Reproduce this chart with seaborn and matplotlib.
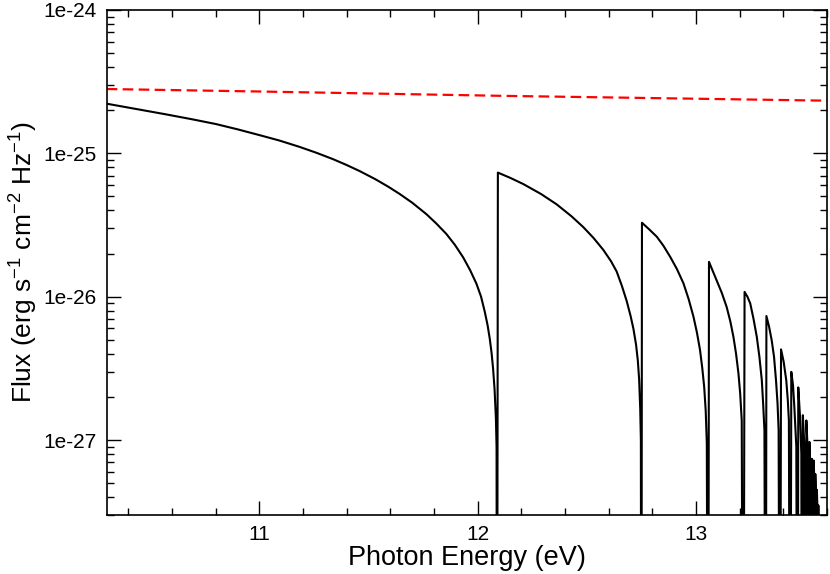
import matplotlib
matplotlib.use("Agg")
import matplotlib.pyplot as plt
import seaborn as sns
import pandas as pd
import numpy as np
from matplotlib.ticker import MultipleLocator, FixedLocator, LogLocator, FuncFormatter, NullFormatter

# ---------------- data ----------------
energy_black = [
    10.30, 10.45, 10.572, 10.69, 10.801, 10.90, 11.00, 11.09, 11.183, 11.26, 11.336, 11.40, 11.459,
    11.53, 11.59, 11.642, 11.70, 11.765, 11.81, 11.856, 11.895, 11.933, 11.965, 11.994, 12.015,
    12.032, 12.045, 12.055, 12.063, 12.070, 12.077, 12.083, 12.086, 12.088,
    12.092, 12.15, 12.208, 12.29, 12.361, 12.43, 12.483, 12.53, 12.575, 12.61, 12.636, 12.66,
    12.682, 12.70, 12.713, 12.725, 12.733, 12.739, 12.744, 12.747, 12.749,
    12.752, 12.785, 12.820, 12.85, 12.881, 12.912, 12.942, 12.966, 12.988, 13.004, 13.018,
    13.028, 13.037, 13.044, 13.049, 13.055,
    13.059, 13.075, 13.094, 13.118, 13.140, 13.157, 13.171, 13.183, 13.194, 13.202, 13.209, 13.216,
    13.222, 13.235, 13.248, 13.263, 13.278, 13.290, 13.301, 13.307, 13.313, 13.319,
    13.322, 13.334, 13.346, 13.357, 13.366, 13.373, 13.378, 13.384,
    13.389, 13.401, 13.413, 13.420, 13.425, 13.431,
    13.436, 13.444, 13.450, 13.459, 13.465,
    13.468, 13.477, 13.482, 13.485,
    13.489, 13.496, 13.500,
    13.505, 13.512, 13.516,
    13.519, 13.524, 13.527,
    13.530, 13.534, 13.536,
    13.539, 13.542, 13.544,
    13.546, 13.549, 13.551,
    13.553, 13.556, 13.558,
    13.560, 13.566,
]
flux_black = [
    2.22e-25, 2.02e-25, 1.87e-25, 1.73e-25, 1.60e-25, 1.47e-25, 1.34e-25, 1.23e-25, 1.11e-25, 1.01e-25, 9.12e-26, 8.28e-26, 7.52e-26,
    6.61e-26, 5.85e-26, 5.21e-26, 4.52e-26, 3.76e-26, 3.24e-26, 2.74e-26, 2.30e-26, 1.88e-26, 1.53e-26, 1.23e-26, 1.00e-26,
    7.85e-27, 6.31e-27, 5.07e-27, 4.07e-27, 3.16e-27, 2.24e-27, 1.41e-27, 8.9e-28, 1e-30,
    7.34e-26, 6.73e-26, 6.11e-26, 5.20e-26, 4.41e-26, 3.63e-26, 3.06e-26, 2.57e-26, 2.12e-26, 1.77e-26, 1.50e-26, 1.19e-26,
    9.33e-27, 7.33e-27, 5.96e-27, 4.62e-27, 3.59e-27, 2.66e-27, 1.66e-27, 1.0e-27, 1e-30,
    3.28e-26, 2.95e-26, 2.62e-26, 2.27e-26, 1.90e-26, 1.56e-26, 1.24e-26, 9.6e-27, 7.24e-27, 5.6e-27, 4.24e-27,
    3.2e-27, 2.35e-27, 1.6e-27, 9.5e-28, 1e-30,
    1.75e-26, 1.53e-26, 1.30e-26, 1.06e-26, 8.47e-27, 6.7e-27, 5.24e-27, 4.0e-27, 2.91e-27, 2.1e-27, 1.37e-27, 1e-30,
    1.08e-26, 1.0e-26, 8.97e-27, 7.0e-27, 5.24e-27, 3.8e-27, 2.61e-27, 1.8e-27, 1.17e-27, 1e-30,
    7.33e-27, 6.2e-27, 4.99e-27, 3.8e-27, 2.61e-27, 1.8e-27, 1.17e-27, 1e-30,
    4.29e-27, 3.52e-27, 2.61e-27, 1.9e-27, 1.37e-27, 1e-30,
    2.99e-27, 2.4e-27, 1.70e-27, 9.0e-28, 1e-30,
    2.33e-27, 1.37e-27, 8.0e-28, 1e-30,
    1.49e-27, 9.0e-28, 1e-30,
    1.37e-27, 8.0e-28, 1e-30,
    9.7e-28, 6.0e-28, 1e-30,
    7.4e-28, 5.0e-28, 1e-30,
    7.2e-28, 4.5e-28, 1e-30,
    5.8e-28, 4.0e-28, 1e-30,
    4.5e-28, 3.3e-28, 1e-30,
    3.5e-28, 1e-30,
]
energy_red = [10.30, 11.00, 12.10, 13.60]
flux_red = [2.81e-25, 2.70e-25, 2.52e-25, 2.33e-25]

x_major_ticks = [11, 12, 13]
y_major_ticks = [1e-27, 1e-26, 1e-25, 1e-24]

# ---------------- style ----------------
sns.set_theme(style="ticks")
plt.rcParams['font.family'] = ['Liberation Sans', 'DejaVu Sans']
plt.rcParams['mathtext.fontset'] = 'custom'
plt.rcParams['mathtext.rm'] = 'Liberation Sans'
plt.rcParams['mathtext.it'] = 'Liberation Sans:italic'
plt.rcParams['mathtext.bf'] = 'Liberation Sans:bold'

fig = plt.figure(figsize=(8.3, 5.74), dpi=100)
ax = fig.add_axes([0.1285, 0.1028, 0.868, 0.8798])

df_black = pd.DataFrame({"energy": energy_black, "flux": flux_black})
df_red = pd.DataFrame({"energy": energy_red, "flux": flux_red})

sns.lineplot(data=df_black, x="energy", y="flux", sort=False, estimator=None,
             color="black", linewidth=1.5, ax=ax)
sns.lineplot(data=df_red, x="energy", y="flux", sort=False, estimator=None,
             color="#ff0000", linewidth=1.6, ax=ax)
ax.lines[-1].set_linestyle((0, (4.8, 2.4)))
for ln in ax.lines:
    ln.set_solid_joinstyle("round")

ax.set_yscale("log")
ax.set_xlim(10.3, 13.6)
ax.set_ylim(3e-28, 1e-24)

ax.xaxis.set_major_locator(FixedLocator(x_major_ticks))
ax.xaxis.set_minor_locator(MultipleLocator(0.2))
ax.yaxis.set_major_locator(FixedLocator(y_major_ticks))
ax.yaxis.set_minor_locator(LogLocator(base=10, subs=np.arange(2, 10)))
ax.yaxis.set_minor_formatter(NullFormatter())
ax.yaxis.set_major_formatter(FuncFormatter(lambda v, _: "1e%d" % int(round(np.log10(v)))))
ax.xaxis.set_major_formatter(FuncFormatter(lambda v, _: "%d" % int(round(v))))

ax.tick_params(which="both", direction="in", top=True, right=True, width=1.0, color="black",
               labelsize=15, labelcolor="black")
ax.tick_params(which="major", length=10, pad=7)
ax.tick_params(which="minor", length=5)

for s in ax.spines.values():
    s.set_visible(True)
    s.set_linewidth(1.2)
    s.set_color("black")

ax.set_xlabel("Photon Energy (eV)", fontsize=19.5, labelpad=1, color="black")
ax.set_ylabel(r"Flux (erg s$^{-1}$ cm$^{-2}$ Hz$^{-1}$)", fontsize=19, labelpad=3, color="black")
ax.grid(False)

fig.savefig("out.png", dpi=100)
